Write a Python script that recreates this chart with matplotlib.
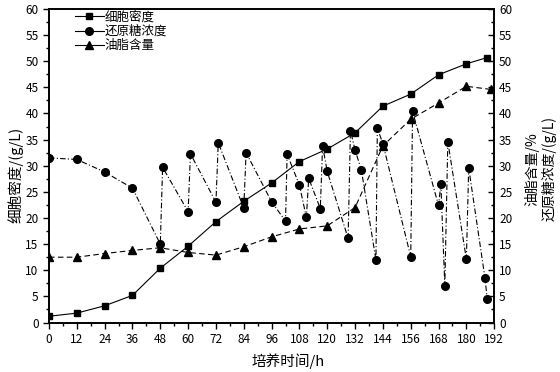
import matplotlib
matplotlib.use('agg')
import matplotlib.pyplot as plt
from matplotlib.lines import Line2D
from matplotlib.ticker import MultipleLocator

plt.rcParams['font.family'] = ['Noto Sans CJK SC', 'DejaVu Sans']

# cell density (g/L)
t_density = [0, 12, 24, 36, 48, 60, 72, 84, 96, 108, 120, 132, 144, 156, 168, 180, 189]
density = [1.2, 1.8, 3.2, 5.2, 10.4, 14.6, 19.3, 23.2, 26.7, 30.8, 33.2, 36.3, 41.4, 43.7, 47.4, 49.5, 50.7]

# lipid content (%)
t_lipid = [0, 12, 24, 36, 48, 60, 72, 84, 96, 108, 120, 132, 144, 156, 168, 180, 190.5]
lipid = [12.5, 12.5, 13.2, 13.8, 14.3, 13.4, 12.9, 14.5, 16.4, 17.9, 18.5, 22.0, 33.8, 38.9, 42.0, 45.2, 44.6]

# reducing sugar (g/L), fed-batch sawtooth
t_sugar = [0, 12, 24, 36, 48, 49, 60, 61, 72, 73, 84, 85, 96, 102, 102.7, 108, 111, 112,
           117, 118, 120, 129, 130, 132, 134.7, 141, 141.6, 144, 156, 156.8, 168, 169,
           170.7, 172, 180, 181, 188, 189]
sugar = [31.5, 31.2, 28.8, 25.7, 15.0, 29.7, 21.2, 32.3, 23.0, 34.4, 21.9, 32.5, 23.1, 19.4,
         32.2, 26.3, 20.1, 27.6, 21.8, 33.8, 28.9, 16.1, 36.7, 33.0, 29.2, 12.0, 37.2, 34.2,
         12.6, 40.4, 22.4, 26.5, 7.0, 34.6, 12.1, 29.6, 8.6, 4.5]

fig = plt.figure(figsize=(5.6, 3.72), dpi=100)
ax = fig.add_axes([0.0875, 0.133, 0.795, 0.843])
ax2 = ax.twinx()

ax.plot(t_density, density, color='k', lw=0.8, marker='s', ms=5, zorder=3)
ax2.plot(t_sugar, sugar, color='k', lw=0.8, ls=(0, (5, 2, 1, 2)), marker='o', ms=5.5)
ax2.plot(t_lipid, lipid, color='k', lw=0.8, ls=(0, (5, 3)), marker='^', ms=6)

for a in (ax, ax2):
    a.set_xlim(0, 192)
    a.set_ylim(0, 60)
    a.yaxis.set_major_locator(MultipleLocator(5))
    a.yaxis.set_minor_locator(MultipleLocator(2.5))
    for s in a.spines.values():
        s.set_linewidth(1.2)

ax.xaxis.set_major_locator(MultipleLocator(12))
ax.xaxis.set_minor_locator(MultipleLocator(6))
ax.tick_params(which='both', direction='out', labelsize=8.5, width=1)
ax.tick_params(which='major', length=4)
ax.tick_params(which='minor', length=2)
ax2.tick_params(which='both', direction='in', labelsize=8.5, width=1)
ax2.tick_params(which='major', length=4)
ax2.tick_params(which='minor', length=2)

ax.set_xlabel('培养时间/h', fontsize=10.5, labelpad=5, x=0.537)
ax.set_ylabel('细胞密度/(g/L)', fontsize=10.5, labelpad=1, y=0.47)
ax2.set_ylabel('油脂含量/%\n还原糖浓度/(g/L)', fontsize=10, labelpad=9, linespacing=1.15, y=0.49)

handles = [
    Line2D([], [], color='k', lw=0.8, marker='s', ms=5),
    Line2D([], [], color='k', lw=0.8, marker='o', ms=5.5),
    Line2D([], [], color='k', lw=0.8, marker='^', ms=6),
]
ax.legend(handles, ['细胞密度', '还原糖浓度', '油脂含量'], loc='upper left',
          bbox_to_anchor=(0.047, 1.01), frameon=False, fontsize=9,
          handlelength=2.3, handletextpad=0.1, labelspacing=0.1, borderaxespad=0)

fig.savefig('out.png', dpi=100)
